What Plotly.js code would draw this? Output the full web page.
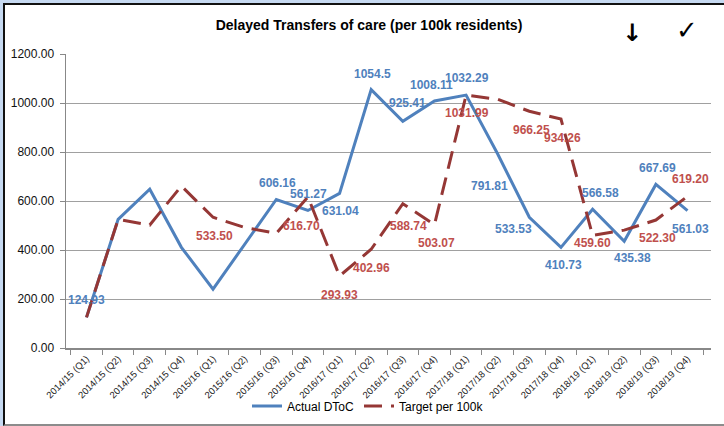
<!DOCTYPE html>
<html>
<head>
<meta charset="utf-8">
<script src="https://cdn.plot.ly/plotly-3.0.1.min.js"></script>
<style>
  html, body { margin: 0; padding: 0; background: #C6D9F1; }
  #frame { position: absolute; left: 3px; top: 3px; width: 721px; height: 419px; background: #fff;
           border-left: 2px solid #111; border-top: 2px solid #111; border-bottom: 2px solid #8c8c8c; }
  #chart { position: absolute; left: 0; top: 0; width: 724px; height: 426px; }
</style>
</head>
<body>
<div id="frame"></div>
<div id="chart"></div>
<script>
const categories = [
  "2014/15 (Q1)", "2014/15 (Q2)", "2014/15 (Q3)", "2014/15 (Q4)",
  "2015/16 (Q1)", "2015/16 (Q2)", "2015/16 (Q3)", "2015/16 (Q4)",
  "2016/17 (Q1)", "2016/17 (Q2)", "2016/17 (Q3)", "2016/17 (Q4)",
  "2017/18 (Q1)", "2017/18 (Q2)", "2017/18 (Q3)", "2017/18 (Q4)",
  "2018/19 (Q1)", "2018/19 (Q2)", "2018/19 (Q3)", "2018/19 (Q4)"
];
const actualDToC = [124.93, 525, 648, 411, 240, 425, 606.16, 561.27, 631.04, 1054.5,
                    925.41, 1008.11, 1032.29, 791.81, 533.53, 410.73, 566.58, 435.38, 667.69, 561.03];
const targetPer100k = [125, 525, 502, 661, 533.50, 492, 468, 616.70, 293.93, 402.96,
                       588.74, 503.07, 1031.99, 1015, 966.25, 934.26, 459.60, 481, 522.30, 619.20];
const actualLabels = ["124.93", "", "", "", "", "", "606.16", "561.27", "631.04", "1054.5",
                      "925.41", "1008.11", "1032.29", "791.81", "533.53", "410.73", "566.58", "435.38", "667.69", "561.03"];
const targetLabels = ["", "", "", "", "533.50", "", "", "616.70", "293.93", "402.96",
                      "588.74", "503.07", "1031.99", "", "966.25", "934.26", "459.60", "", "522.30", "619.20"];
const yTickValues = [0, 200, 400, 600, 800, 1000, 1200];

// label offsets in pixels [xshift, yshift]
const actualShift = [[0,17],[0,0],[0,0],[0,0],[0,0],[0,0],[1,16],[1,16],[1,-18],[1,16],
                     [5,18],[-3,16],[1,17],[-8,-32],[-16,-12],[3,-18],[8,16],[8,-17],[2,16],[3,-18]];
const targetShift = [[0,0],[0,0],[0,0],[0,0],[1,-19],[0,0],[0,0],[-6,-29],[0,-19],[0,-19],
                     [6,-22],[2,-18],[1,-18],[0,0],[2,-19],[2,-19],[0,-8],[0,0],[2,-18],[3,17]];

const BLUE = "#4F81BD", DRED = "#953735", LRED = "#C0504D";
const FONT = "Liberation Sans, Arial, sans-serif";

const traces = [
  { type: "scatter", mode: "lines", name: "Actual DToC", x: categories, y: actualDToC,
    line: { color: BLUE, width: 3 } },
  { type: "scatter", mode: "lines", name: "Target per 100k", x: categories, y: targetPer100k,
    line: { color: DRED, width: 3, dash: "18px,9px" } }
];

const annotations = [];
categories.forEach((c, i) => {
  if (actualLabels[i]) annotations.push({ x: c, y: actualDToC[i], xref: "x", yref: "y", text: "<b>" + actualLabels[i] + "</b>",
    showarrow: false, xshift: actualShift[i][0], yshift: actualShift[i][1], font: { family: FONT, size: 12, color: BLUE } });
  if (targetLabels[i]) annotations.push({ x: c, y: targetPer100k[i], xref: "x", yref: "y", text: "<b>" + targetLabels[i] + "</b>",
    showarrow: false, xshift: targetShift[i][0], yshift: targetShift[i][1], font: { family: FONT, size: 12, color: LRED } });
});
annotations.push({ xref: "paper", yref: "paper", x: (632 - 66) / 645, y: (348 - 33) / 294, xanchor: "center", yanchor: "middle",
  text: "<b>↓</b>", showarrow: false, font: { family: "DejaVu Sans", size: 24, color: "#000" } });
annotations.push({ xref: "paper", yref: "paper", x: (687 - 66) / 645, y: (348 - 30) / 294, xanchor: "center", yanchor: "middle",
  text: "✓", showarrow: false, font: { family: "DejaVu Sans", size: 26, color: "#000" } });

const layout = {
  width: 724, height: 426,
  margin: { l: 66, r: 13, t: 54, b: 78, autoexpand: false },
  paper_bgcolor: "rgba(0,0,0,0)", plot_bgcolor: "rgba(0,0,0,0)",
  showlegend: true,
  title: { text: "<b>Delayed Transfers of care (per 100k residents)</b>", x: 369 / 724, xanchor: "center",
           y: 1 - 25 / 426, yanchor: "middle", font: { family: FONT, size: 14, color: "#000" } },
  xaxis: { type: "category", tickson: "boundaries", ticks: "outside", ticklen: 5, tickcolor: "#888",
           showline: true, linecolor: "#888", linewidth: 1.5, showgrid: false, tickangle: -45, automargin: false,
           tickfont: { family: FONT, size: 9.5, color: "#222" }, zeroline: false },
  yaxis: { range: [0, 1200], tickvals: yTickValues, tickformat: ".2f", ticks: "outside", ticklen: 5, automargin: false,
           tickcolor: "#888", showline: true, linecolor: "#888", linewidth: 1.5, gridcolor: "#A0A0A0",
           gridwidth: 1, zeroline: false, tickfont: { family: FONT, size: 12, color: "#111" }, ticklabelstandoff: 3 },
  legend: { orientation: "h", x: (368 - 66) / 645, xanchor: "center", y: -(406 - 348) / 294, yanchor: "middle",
            font: { family: FONT, size: 12, color: "#000" }, bgcolor: "rgba(0,0,0,0)" },
  annotations: annotations,
  hovermode: false
};

Plotly.newPlot("chart", traces, layout, { staticPlot: true, displayModeBar: false });
</script>
</body>
</html>
